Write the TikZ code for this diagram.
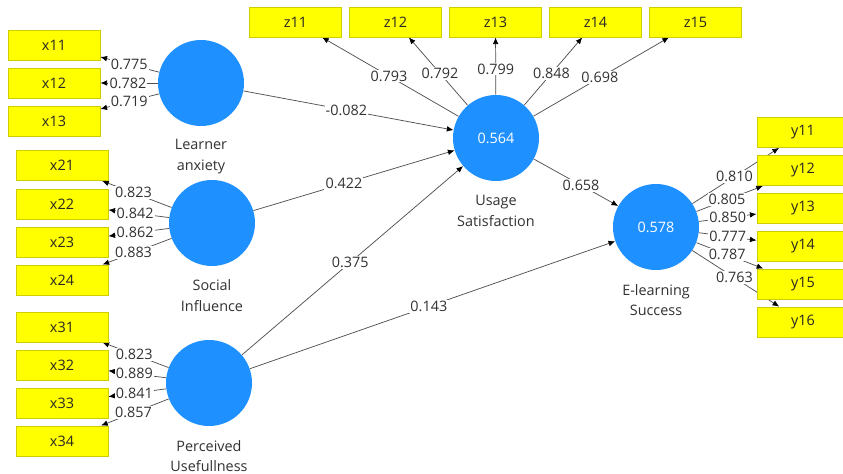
\documentclass[tikz,border=0pt]{standalone}
\usepackage{fontspec}
\setmainfont{Open Sans}
\usetikzlibrary{arrows.meta,backgrounds}
\definecolor{circ}{RGB}{30,144,255}
\definecolor{boxfill}{RGB}{255,255,0}
\definecolor{boxline}{RGB}{205,205,0}
\definecolor{linec}{RGB}{80,80,80}
\definecolor{txt}{RGB}{50,50,50}
\tikzset{
  lv/.style={circle,fill=circ,minimum size=64.5pt,inner sep=0pt,text=white,font=\fontsize{10.8}{12}\selectfont},
  ind/.style={rectangle,fill=boxfill,draw=boxline,line width=0.6pt,minimum width=69pt,minimum height=22.5pt,inner sep=0pt,text=black!85,font=\fontsize{10.8}{12}\selectfont},
  lvname/.style={align=center,text=txt,font=\fontsize{10.8}{15.5}\selectfont},
  arr/.style={draw=linec,line width=0.55pt,-{Latex[length=5pt,width=4.2pt,black]}},
  val/.style={fill=white,inner sep=0.8pt,text=txt,font=\fontsize{10.8}{12}\selectfont},
}
\begin{document}
\begin{tikzpicture}[x=0.75pt,y=-0.75pt]
\clip (0,0) rectangle (843,474);
% latent variables
\node[lv] (la) at (201,83) {};
\node[lv] (si) at (212,223) {};
\node[lv] (pu) at (209,383) {};
\node[lv] (us) at (496,138) {0.564};
\node[lv] (es) at (656,227) {0.578};
\node[lvname] (lan) at (201,156.5) {Learner\\anxiety};
\node[lvname] (sin) at (212,295.5) {Social\\Influence};
\node[lvname] (pun) at (209,456) {Perceived\\Usefullness};
\node[lvname] (usn) at (496,211) {Usage\\Satisfaction};
\node[lvname] (esn) at (656,300) {E-learning\\Success};
% indicators
\node[ind] (x11) at (54,45) {x11};
\node[ind] (x12) at (54,83) {x12};
\node[ind] (x13) at (54,121) {x13};
\node[ind] (x21) at (62,165.5) {x21};
\node[ind] (x22) at (62,204) {x22};
\node[ind] (x23) at (62,242) {x23};
\node[ind] (x24) at (62,280) {x24};
\node[ind] (x31) at (62,327) {x31};
\node[ind] (x32) at (62,365) {x32};
\node[ind] (x33) at (62,403) {x33};
\node[ind] (x34) at (62,441) {x34};
\node[ind] (z11) at (295.5,22) {z11};
\node[ind] (z12) at (395.5,22) {z12};
\node[ind] (z13) at (495.5,22) {z13};
\node[ind] (z14) at (595.5,22) {z14};
\node[ind] (z15) at (695.5,22) {z15};
\node[ind] (y11) at (803,132.5) {y11};
\node[ind] (y12) at (803,170.5) {y12};
\node[ind] (y13) at (803,208) {y13};
\node[ind] (y14) at (803,246.5) {y14};
\node[ind] (y15) at (803,284) {y15};
\node[ind] (y16) at (803,322) {y16};
\begin{scope}[on background layer]
\fill[white] (0,0) rectangle (843,474);
% outer loadings
\draw[arr] (la) -- node[val,pos=0.51]{0.775} (x11);
\draw[arr] (la) -- node[val,pos=0.52]{0.782} (x12);
\draw[arr] (la) -- node[val,pos=0.51]{0.719} (x13);
\draw[arr] (si) -- node[val,pos=0.55]{0.823} (x21);
\draw[arr] (si) -- node[val,pos=0.56]{0.842} (x22);
\draw[arr] (si) -- node[val,pos=0.56]{0.862} (x23);
\draw[arr] (si) -- node[val,pos=0.55]{0.883} (x24);
\draw[arr] (pu) -- node[val,pos=0.52]{0.823} (x31);
\draw[arr] (pu) -- node[val,pos=0.55]{0.889} (x32);
\draw[arr] (pu) -- node[val,pos=0.55]{0.841} (x33);
\draw[arr] (pu) -- node[val,pos=0.52]{0.857} (x34);
\draw[arr] (us) -- node[val,pos=0.51]{0.793} (z11);
\draw[arr] (us) -- node[val,pos=0.47]{0.792} (z12);
\draw[arr] (us) -- node[val,pos=0.45]{0.799} (z13);
\draw[arr] (us) -- node[val,pos=0.47]{0.848} (z14);
\draw[arr] (us) -- node[val,pos=0.49]{0.698} (z15);
\draw[arr] (es) -- node[val,pos=0.485]{0.810} (y11);
\draw[arr] (es) -- node[val,pos=0.46]{0.805} (y12);
\draw[arr] (es) -- node[val,pos=0.50]{0.850} (y13);
\draw[arr] (es) -- node[val,pos=0.50]{0.777} (y14);
\draw[arr] (es) -- node[val,pos=0.46]{0.787} (y15);
\draw[arr] (es) -- node[val,pos=0.485]{0.763} (y16);
% structural paths
\draw[arr] (la) -- node[val,pos=0.49]{-0.082} (us);
\draw[arr] (si) -- node[val,pos=0.45]{0.422} (us);
\draw[arr] (pu) -- node[val,pos=0.49]{0.375} (us);
\draw[arr] (pu) -- node[val,pos=0.49]{0.143} (es);
\draw[arr] (us) -- node[val,pos=0.56]{0.658} (es);
\end{scope}
\end{tikzpicture}
\end{document}
